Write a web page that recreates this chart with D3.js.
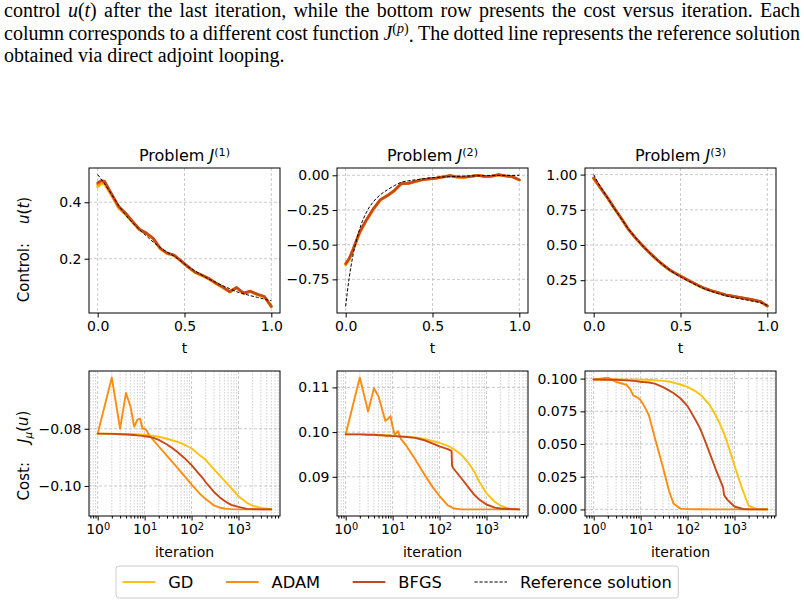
<!DOCTYPE html>
<html>
<head>
<meta charset="utf-8">
<script src="https://cdn.jsdelivr.net/npm/d3@7"></script>
<style>
  body { margin: 0; background: #fff; }
</style>
</head>
<body>
<div id="root"></div>
<script>
const width = 804,
      height = 606

const sans = "'DejaVu Sans', sans-serif"
const serif = "'Liberation Serif', 'Times New Roman', serif"

const methods = ['GD', 'ADAM', 'BFGS']
const methodColors = ['#ffc20e', '#ff8c0f', '#c84819']

// control u(t) after the last iteration
const tGrid = [0, 0.02, 0.04, 0.08, 0.12, 0.16, 0.2, 0.24, 0.28, 0.32, 0.36, 0.4, 0.44, 0.48, 0.52, 0.56, 0.6, 0.64, 0.68, 0.72, 0.76, 0.8, 0.84, 0.88, 0.92, 0.96, 1]

const u1GD   = [0.455, 0.466, 0.463, 0.424, 0.379, 0.357, 0.329, 0.302, 0.289, 0.27, 0.235, 0.218, 0.211, 0.191, 0.17, 0.151, 0.14, 0.128, 0.112, 0.098, 0.082, 0.096, 0.077, 0.083, 0.072, 0.065, 0.031]
const u1ADAM = [0.462, 0.472, 0.469, 0.428, 0.383, 0.36, 0.331, 0.304, 0.29, 0.271, 0.236, 0.219, 0.212, 0.192, 0.171, 0.152, 0.141, 0.129, 0.113, 0.099, 0.083, 0.097, 0.078, 0.084, 0.073, 0.066, 0.031]
const u1BFGS = [0.469, 0.477, 0.474, 0.43, 0.386, 0.362, 0.333, 0.305, 0.291, 0.272, 0.237, 0.22, 0.213, 0.193, 0.172, 0.153, 0.142, 0.13, 0.114, 0.1, 0.083, 0.098, 0.078, 0.085, 0.074, 0.066, 0.031]
const u1Ref  = [0.498, 0.482, 0.465, 0.428, 0.39, 0.355, 0.328, 0.303, 0.281, 0.259, 0.24, 0.223, 0.209, 0.191, 0.172, 0.157, 0.142, 0.128, 0.116, 0.104, 0.094, 0.083, 0.076, 0.069, 0.063, 0.057, 0.051]

const u2GD   = [-0.648, -0.61, -0.55, -0.418, -0.325, -0.246, -0.179, -0.148, -0.112, -0.062, -0.059, -0.046, -0.033, -0.027, -0.021, -0.013, -0.003, -0.013, -0.015, -0.009, -0.001, -0.009, -0.007, 0.004, -0.005, -0.011, -0.034]
const u2ADAM = [-0.642, -0.605, -0.545, -0.414, -0.322, -0.243, -0.177, -0.147, -0.111, -0.061, -0.058, -0.045, -0.032, -0.026, -0.02, -0.012, -0.003, -0.012, -0.014, -0.008, -0.001, -0.008, -0.006, 0.004, -0.004, -0.01, -0.033]
const u2BFGS = [-0.636, -0.6, -0.54, -0.41, -0.32, -0.24, -0.175, -0.146, -0.11, -0.06, -0.058, -0.045, -0.032, -0.026, -0.02, -0.012, -0.002, -0.012, -0.014, -0.008, 0.0, -0.008, -0.006, 0.005, -0.004, -0.01, -0.033]
const u2Ref  = [-0.945, -0.74, -0.59, -0.39, -0.265, -0.19, -0.14, -0.105, -0.075, -0.05, -0.04, -0.033, -0.026, -0.02, -0.016, -0.012, -0.01, -0.008, -0.006, -0.005, -0.004, -0.003, -0.002, -0.002, -0.001, -0.001, 0.0]

const u3GD   = [0.97, 0.936, 0.901, 0.833, 0.758, 0.686, 0.61, 0.55, 0.496, 0.446, 0.399, 0.357, 0.32, 0.291, 0.265, 0.238, 0.213, 0.19, 0.173, 0.159, 0.144, 0.135, 0.126, 0.118, 0.108, 0.097, 0.064]
const u3ADAM = [0.973, 0.938, 0.903, 0.834, 0.759, 0.687, 0.611, 0.551, 0.497, 0.447, 0.4, 0.358, 0.321, 0.292, 0.266, 0.239, 0.214, 0.191, 0.174, 0.16, 0.145, 0.136, 0.127, 0.119, 0.109, 0.098, 0.066]
const u3BFGS = [0.976, 0.94, 0.905, 0.835, 0.76, 0.688, 0.612, 0.552, 0.498, 0.448, 0.401, 0.359, 0.322, 0.293, 0.267, 0.24, 0.215, 0.192, 0.175, 0.161, 0.146, 0.137, 0.128, 0.12, 0.11, 0.099, 0.068]
const u3Ref  = [1.0, 0.955, 0.913, 0.835, 0.758, 0.685, 0.615, 0.553, 0.497, 0.447, 0.4, 0.358, 0.32, 0.288, 0.26, 0.235, 0.21, 0.188, 0.17, 0.154, 0.14, 0.129, 0.119, 0.11, 0.1, 0.09, 0.072]

// cost versus iteration
const iters = [1, 2, 3, 4, 5, 6, 7, 8, 9, 10, 11, 12, 13, 15, 20, 30, 40, 50, 70, 100, 150, 180, 185, 200, 300, 400, 500, 570, 600, 700, 1000, 1500, 2000, 3000, 5000]

const c1GD   = [-0.0817, -0.0817, -0.0818, -0.0818, -0.0819, -0.0819, -0.082, -0.082, -0.0821, -0.0821, -0.0822, -0.0822, -0.0823, -0.0824, -0.0828, -0.0835, -0.0841, -0.0846, -0.0855, -0.0869, -0.0893, -0.0902, -0.0904, -0.0909, -0.0942, -0.0964, -0.0981, -0.0991, -0.0995, -0.1008, -0.1036, -0.1059, -0.1069, -0.1077, -0.1081]
const c1ADAM = [-0.0817, -0.0621, -0.08, -0.0675, -0.0722, -0.0793, -0.0768, -0.0765, -0.08, -0.08, -0.0806, -0.0818, -0.0826, -0.0838, -0.0862, -0.0895, -0.0918, -0.0937, -0.0965, -0.0995, -0.1027, -0.1039, -0.1041, -0.1046, -0.1068, -0.1076, -0.1079, -0.108, -0.108, -0.1081, -0.1082, -0.1082, -0.1082, -0.1082, -0.1082]
const c1BFGS = [-0.0817, -0.0818, -0.0819, -0.082, -0.0821, -0.0822, -0.0823, -0.0824, -0.0825, -0.0826, -0.0827, -0.0828, -0.0829, -0.0831, -0.0839, -0.0855, -0.0869, -0.0881, -0.0902, -0.0927, -0.0961, -0.0976, -0.0979, -0.0987, -0.1021, -0.104, -0.1052, -0.1058, -0.106, -0.1066, -0.1073, -0.108, -0.1081, -0.1082, -0.1082]

const c2GD   = [0.0995, 0.0995, 0.0994, 0.0994, 0.0994, 0.0993, 0.0993, 0.0993, 0.0992, 0.0992, 0.0992, 0.0992, 0.0991, 0.0991, 0.099, 0.0988, 0.0986, 0.0984, 0.098, 0.0976, 0.0969, 0.0965, 0.0964, 0.0962, 0.0948, 0.0933, 0.0918, 0.0908, 0.0903, 0.0889, 0.0863, 0.0844, 0.0835, 0.0829, 0.0827]
const c2ADAM = [0.0995, 0.1122, 0.1046, 0.1098, 0.108, 0.105, 0.1025, 0.103, 0.1036, 0.1012, 0.0995, 0.0998, 0.1002, 0.0985, 0.0968, 0.094, 0.0918, 0.0902, 0.0878, 0.0857, 0.0836, 0.0832, 0.0831, 0.0829, 0.0827, 0.0827, 0.0827, 0.0827, 0.0827, 0.0827, 0.0827, 0.0827, 0.0827, 0.0827, 0.0827]
const c2BFGS = [0.0995, 0.0995, 0.0994, 0.0994, 0.0993, 0.0993, 0.0992, 0.0992, 0.0992, 0.0991, 0.0991, 0.0991, 0.099, 0.099, 0.0989, 0.0987, 0.0984, 0.0981, 0.0975, 0.0968, 0.0962, 0.0958, 0.0924, 0.0918, 0.0895, 0.0878, 0.0865, 0.0858, 0.0856, 0.0849, 0.0838, 0.0831, 0.0829, 0.0828, 0.0827]

const c3GD   = [0.0993, 0.0993, 0.0993, 0.0993, 0.0993, 0.0992, 0.0992, 0.0992, 0.0992, 0.0992, 0.0991, 0.0991, 0.0991, 0.099, 0.0988, 0.0983, 0.0978, 0.097, 0.0955, 0.0937, 0.0902, 0.0882, 0.0879, 0.0869, 0.0795, 0.0718, 0.0646, 0.0598, 0.0577, 0.0512, 0.0335, 0.0145, 0.0028, 0.0002, 0.0]
const c3ADAM = [0.0993, 0.1008, 0.0974, 0.0963, 0.0952, 0.092, 0.087, 0.0862, 0.085, 0.0835, 0.0812, 0.0788, 0.0765, 0.072, 0.055, 0.032, 0.0145, 0.0045, 0.0006, 0.0002, 0.0001, 0.0001, 0.0001, 0.0001, 0.0, 0.0, 0.0, 0.0, 0.0, 0.0, 0.0, 0.0, 0.0, 0.0, 0.0]
const c3BFGS = [0.0993, 0.0992, 0.0991, 0.0989, 0.0987, 0.0985, 0.0983, 0.0981, 0.0978, 0.0975, 0.0974, 0.0973, 0.0972, 0.097, 0.0962, 0.0935, 0.091, 0.089, 0.085, 0.079, 0.068, 0.0627, 0.0618, 0.059, 0.0425, 0.0305, 0.022, 0.0168, 0.011, 0.0075, 0.0022, 0.0003, 0.0001, 0.0, 0.0]

// tick labels
const tTicks = [0, 0.5, 1]
const uTicks1 = [0.2, 0.4]
const uTicks2 = [0, -0.25, -0.5, -0.75]
const uTicks3 = [0.25, 0.5, 0.75, 1]
const iterTicks = [1, 10, 100, 1000]
const costTicks1 = [-0.10, -0.08]
const costTicks2 = [0.09, 0.10, 0.11]
const costTicks3 = [0, 0.025, 0.05, 0.075, 0.1]

const panelW = 191,
      panelH = 145,
      lefts = [89, 337, 585],
      topRow = 168,
      bottomRow = 371,
      tickFont = 14

const svg = d3.select('#root')
        .append('svg')
        .attr('width', width)
        .attr('height', height)
        .style('display', 'block')

// matplotlib style 5% margins
const pad = ([lo, hi]) => {
    const m = (hi - lo) * 0.05
    return [lo - m, hi + m]
}

function richText(sel, pieces) {
    // pieces: [text, style] with style '', 'i', 'sup', 'supi', 'sub', 'subi'
    let shift = 0
    pieces.forEach(([txt, st = '']) => {
        const ts = sel.append('tspan').text(txt)
        let want = 0
        if (st.startsWith('sup')) want = -0.45
        if (st.startsWith('sub')) want = 0.25
        if (want !== shift) ts.attr('dy', (want - shift) + 'em')
        shift = want
        if (st.endsWith('i')) ts.attr('font-style', 'italic')
        if (st.startsWith('sup') || st.startsWith('sub')) ts.attr('font-size', '0.7em')
    })
}

function drawPanel(p) {
    const g = svg.append('g')
    const L = Math.log10(5000)
    const x = p.log
        ? d3.scaleLog().domain([Math.pow(10, -0.05 * L), Math.pow(10, 1.05 * L)]).range([p.left, p.left + panelW])
        : d3.scaleLinear().domain(pad([0, 1])).range([p.left, p.left + panelW])

    const allY = p.series.concat(p.ref ? [p.ref] : []).flat()
    const y = d3.scaleLinear()
        .domain(pad(d3.extent(allY)))
        .range([p.top + panelH, p.top])

    // grid
    const grid = g.append('g')
    if (p.log) {
        const minor = x.ticks().filter(d => !iterTicks.includes(d))
        grid.selectAll('line.minor').data(minor).enter().append('line')
            .attr('x1', d => x(d)).attr('x2', d => x(d))
            .attr('y1', p.top).attr('y2', p.top + panelH)
            .attr('stroke', '#bdbdbd').attr('stroke-width', 0.7)
            .attr('stroke-dasharray', '1.6,1.4')
    }
    grid.selectAll('line.vx').data(p.xTicks).enter().append('line')
        .attr('x1', d => x(d)).attr('x2', d => x(d))
        .attr('y1', p.top).attr('y2', p.top + panelH)
        .attr('stroke', '#bdbdbd').attr('stroke-width', 0.8)
        .attr('stroke-dasharray', '3,2')
    grid.selectAll('line.hy').data(p.yTicks).enter().append('line')
        .attr('x1', p.left).attr('x2', p.left + panelW)
        .attr('y1', d => y(d)).attr('y2', d => y(d))
        .attr('stroke', '#bdbdbd').attr('stroke-width', 0.8)
        .attr('stroke-dasharray', '3,2')

    // series
    const xs = p.log ? iters : tGrid
    const line = d3.line()
        .x(d => x(d[0]))
        .y(d => y(d[1]))
    p.series.forEach((vals, i) => {
        g.append('path')
            .datum(d3.zip(xs, vals))
            .attr('d', line)
            .attr('fill', 'none')
            .attr('stroke', methodColors[i])
            .attr('stroke-width', p.lw)
            .attr('stroke-linejoin', 'round')
            .attr('stroke-linecap', 'round')
    })
    if (p.ref) {
        g.append('path')
            .datum(d3.zip(xs, p.ref))
            .attr('d', line.curve(d3.curveMonotoneX))
            .attr('fill', 'none')
            .attr('stroke', '#000')
            .attr('stroke-width', 1)
            .attr('stroke-dasharray', '3.2,1.8')
    }

    // frame
    g.append('rect')
        .attr('x', p.left).attr('y', p.top)
        .attr('width', panelW).attr('height', panelH)
        .attr('fill', 'none').attr('stroke', '#000').attr('stroke-width', 1)

    // axes
    const yAxis = g.append('g')
        .attr('transform', `translate(${p.left},0)`)
        .call(d3.axisLeft(y).tickValues(p.yTicks).tickFormat(d3.format(p.yFmt)).tickSize(4.5).tickPadding(3))
    yAxis.select('.domain').remove()
    yAxis.attr('font-family', sans).attr('font-size', tickFont)

    const xAxis = g.append('g')
        .attr('transform', `translate(0,${p.top + panelH})`)
        .call(d3.axisBottom(x).tickValues(p.xTicks).tickSize(4.5).tickPadding(4)
            .tickFormat(p.log ? () => '' : d3.format('.1f')))
    xAxis.select('.domain').remove()
    xAxis.attr('font-family', sans).attr('font-size', tickFont)

    if (p.log) {
        xAxis.selectAll('.tick text').each(function (d) {
            const t = d3.select(this)
            t.text(null)
            richText(t, [['10'], [String(Math.round(Math.log10(d))), 'sup']])
        })
        const minor = x.ticks().filter(d => !iterTicks.includes(d))
        const mAxis = g.append('g')
            .attr('transform', `translate(0,${p.top + panelH})`)
            .call(d3.axisBottom(x).tickValues(minor).tickSize(2.5).tickFormat(() => ''))
        mAxis.select('.domain').remove()
    }

    // x label
    g.append('text')
        .attr('x', p.left + panelW / 2)
        .attr('y', p.top + panelH + (p.log ? 41 : 40))
        .attr('text-anchor', 'middle')
        .attr('font-family', sans)
        .attr('font-size', tickFont)
        .text(p.xLabel)

    if (p.title) {
        const tt = g.append('text')
            .attr('x', p.left + panelW / 2)
            .attr('y', p.top - 7)
            .attr('text-anchor', 'middle')
            .attr('font-family', sans)
            .attr('font-size', 16)
        richText(tt, [['Problem '], ['J', 'i'], [p.title, 'sup']])
    }

    if (p.yLabel) {
        const yl = g.append('text')
            .attr('transform', `translate(29,${p.top + panelH / 2 + p.yShift}) rotate(-90)`)
            .attr('text-anchor', 'middle')
            .attr('font-family', sans)
            .attr('font-size', 15)
        richText(yl, p.yLabel)
    }
}

const topSeries = [[u1GD, u1ADAM, u1BFGS], [u2GD, u2ADAM, u2BFGS], [u3GD, u3ADAM, u3BFGS]]
const topRefs = [u1Ref, u2Ref, u3Ref]
const topTicks = [uTicks1, uTicks2, uTicks3]
const topFmts = ['.1f', '.2f', '.2f']
const costSeries = [[c1GD, c1ADAM, c1BFGS], [c2GD, c2ADAM, c2BFGS], [c3GD, c3ADAM, c3BFGS]]
const costTicks = [costTicks1, costTicks2, costTicks3]
const costFmts = ['.2f', '.2f', '.3f']

lefts.forEach((left, i) => {
    drawPanel({
        left, top: topRow, log: false,
        series: topSeries[i], ref: topRefs[i],
        xTicks: tTicks, yTicks: topTicks[i], yFmt: topFmts[i],
        xLabel: 't', title: `(${i + 1})`, lw: 2.7, yShift: 9,
        yLabel: i === 0 ? [['Control:'], ['    '], ['u', 'i'], ['('], ['t', 'i'], [')']] : null
    })
    drawPanel({
        left, top: bottomRow, log: true,
        series: costSeries[i], ref: null,
        xTicks: iterTicks, yTicks: costTicks[i], yFmt: costFmts[i],
        xLabel: 'iteration', title: null, lw: 1.9, yShift: 12,
        yLabel: i === 0 ? [['Cost:'], ['    '], ['J', 'i'], ['\u03bc', 'subi'], ['('], ['u', 'i'], [')']] : null
    })
})
svg.selectAll('text').attr('xml:space', 'preserve')

// legend
const legFont = 16.3
const legend = svg.append('g')
const legBox = legend.append('rect')
    .attr('y', 566).attr('height', 32)
    .attr('rx', 3)
    .attr('fill', '#fff').attr('stroke', '#cccccc').attr('stroke-width', 1)
let lx = 116 + 0.4 * legFont
const legLabels = methods.concat(['Reference solution'])
legLabels.forEach((lab, i) => {
    legend.append('line')
        .attr('x1', lx).attr('x2', lx + 2 * legFont)
        .attr('y1', 582).attr('y2', 582)
        .attr('stroke', i < 3 ? methodColors[i] : '#000')
        .attr('stroke-width', i < 3 ? 2 : 1)
        .attr('stroke-dasharray', i < 3 ? null : '3.2,1.8')
    const t = legend.append('text')
        .attr('x', lx + 2.8 * legFont).attr('y', 588)
        .attr('font-family', sans).attr('font-size', legFont)
        .text(lab)
    lx += 2.8 * legFont + t.node().getComputedTextLength() + 2 * legFont
})
lx -= 2 * legFont
legBox.attr('x', 116).attr('width', lx + 0.4 * legFont - 116)

// caption above the figure, justified like the source text
const captionLines = [
    [['control'], [['u', 'i'], ['('], ['t', 'i'], [')']], ['after'], ['the'], ['last'], ['iteration,'], ['while'], ['the'], ['bottom'], ['row'], ['presents'], ['the'], ['cost'], ['versus'], ['iteration.'], ['Each']],
    [['column'], ['corresponds'], ['to'], ['a'], ['different'], ['cost'], ['function'], [['J', 'i'], ['(', 'sup'], ['p', 'supi'], [')', 'sup'], ['.']], ['The'], ['dotted'], ['line'], ['represents'], ['the'], ['reference'], ['solution']],
    [['obtained'], ['via'], ['direct'], ['adjoint'], ['looping.']]
]
const capBase = [17, 39.5, 62]
const capSize = 20
captionLines.forEach((words, li) => {
    const nodes = words.map(w => {
        const t = svg.append('text')
            .attr('y', capBase[li])
            .attr('font-family', serif)
            .attr('font-size', capSize)
        const pieces = Array.isArray(w[0]) ? w : [w]
        richText(t, pieces)
        return t
    })
    const widths = nodes.map(n => n.node().getComputedTextLength())
    const total = d3.sum(widths)
    const gap = li < 2 ? (796 - total) / (nodes.length - 1) : capSize * 0.25
    let cx = 4
    nodes.forEach((n, i) => {
        n.attr('x', cx)
        cx += widths[i] + gap
    })
})
</script>
</body>
</html>
